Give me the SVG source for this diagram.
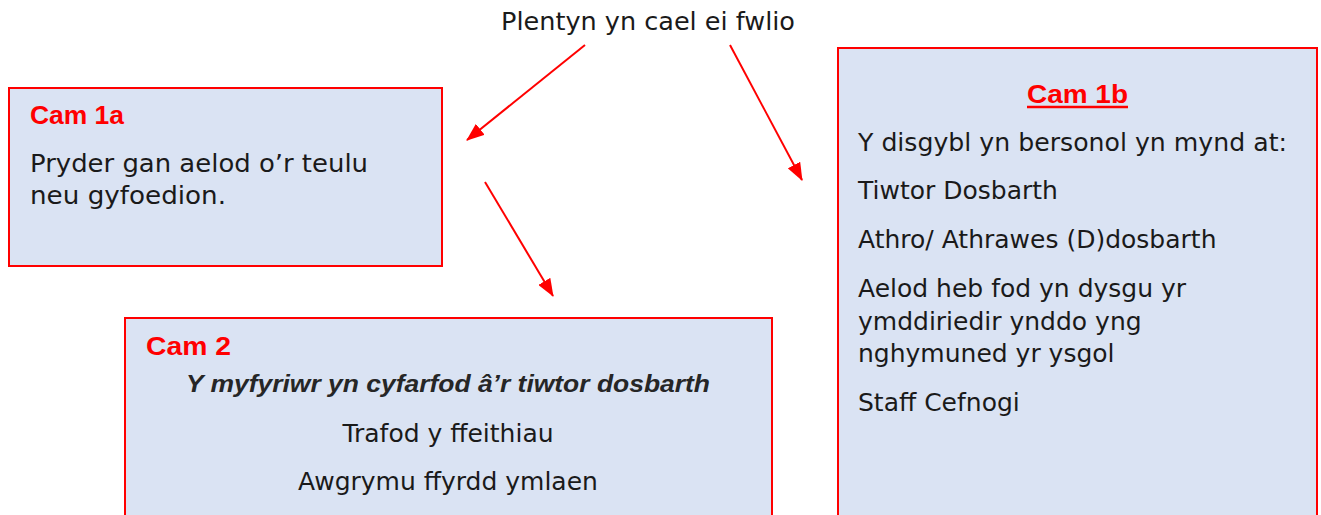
<svg xmlns="http://www.w3.org/2000/svg" width="1321" height="515" viewBox="0 0 1321 515">
  <style>
    .box { fill: #dae3f3; stroke: #ff0000; stroke-width: 2; }
    .t { font-family: "DejaVu Sans", "Liberation Sans", sans-serif; font-size: 25px; fill: #1a1a1a; }
    .head { font-family: "Liberation Sans", Arial, sans-serif; font-size: 26px; font-weight: bold; fill: #ff0000; }
    .em { font-family: "Liberation Sans", Arial, sans-serif; font-size: 24px; font-weight: bold; font-style: italic; fill: #262626; }
    .conn { stroke: #ff0000; stroke-width: 2; fill: none; marker-end: url(#arrow); }
  </style>
  <defs>
    <marker id="arrow" viewBox="0 0 18 14" refX="17" refY="7" markerWidth="18" markerHeight="14" markerUnits="userSpaceOnUse" orient="auto">
      <path d="M0,0 L18,7 L0,14 z" fill="#ff0000"/>
    </marker>
  </defs>
  <rect width="1321" height="515" fill="#ffffff"/>

  <g id="start">
    <text class="t" x="648" y="30" text-anchor="middle" textLength="294" lengthAdjust="spacingAndGlyphs">Plentyn yn cael ei fwlio</text>
  </g>

  <g id="connectors">
    <line class="conn" x1="585" y1="45" x2="467" y2="140"/>
    <line class="conn" x1="730" y1="45" x2="802" y2="180"/>
    <line class="conn" x1="485" y1="182" x2="553" y2="296"/>
  </g>

  <g id="cam1a">
    <rect class="box" x="9" y="88" width="433" height="178"/>
    <text class="head" x="30" y="124" textLength="94" lengthAdjust="spacingAndGlyphs">Cam 1a</text>
    <text class="t" x="30" y="172" textLength="338" lengthAdjust="spacingAndGlyphs">Pryder gan aelod o’r teulu</text>
    <text class="t" x="30" y="204" textLength="196" lengthAdjust="spacingAndGlyphs">neu gyfoedion.</text>
  </g>

  <g id="cam1b">
    <rect class="box" x="838" y="48" width="479" height="480"/>
    <text class="head" x="1027" y="103" textLength="101" lengthAdjust="spacingAndGlyphs">Cam 1b</text>
    <line x1="1027" y1="107" x2="1128" y2="107" stroke="#ff0000" stroke-width="2.5"/>
    <text class="t" x="858" y="151" textLength="429" lengthAdjust="spacingAndGlyphs">Y disgybl yn bersonol yn mynd at:</text>
    <text class="t" x="858" y="199">Tiwtor Dosbarth</text>
    <text class="t" x="858" y="248">Athro/ Athrawes (D)dosbarth</text>
    <text class="t" x="858" y="297">Aelod heb fod yn dysgu yr</text>
    <text class="t" x="858" y="330">ymddiriedir ynddo yng</text>
    <text class="t" x="858" y="362">nghymuned yr ysgol</text>
    <text class="t" x="858" y="411">Staff Cefnogi</text>
  </g>

  <g id="cam2">
    <rect class="box" x="125" y="318" width="647" height="210"/>
    <text class="head" x="146" y="355" textLength="85" lengthAdjust="spacingAndGlyphs">Cam 2</text>
    <text class="em" x="448" y="392" text-anchor="middle" textLength="524" lengthAdjust="spacingAndGlyphs">Y myfyriwr yn cyfarfod â’r tiwtor dosbarth</text>
    <text class="t" x="448" y="442" text-anchor="middle">Trafod y ffeithiau</text>
    <text class="t" x="448" y="490" text-anchor="middle">Awgrymu ffyrdd ymlaen</text>
  </g>
</svg>
